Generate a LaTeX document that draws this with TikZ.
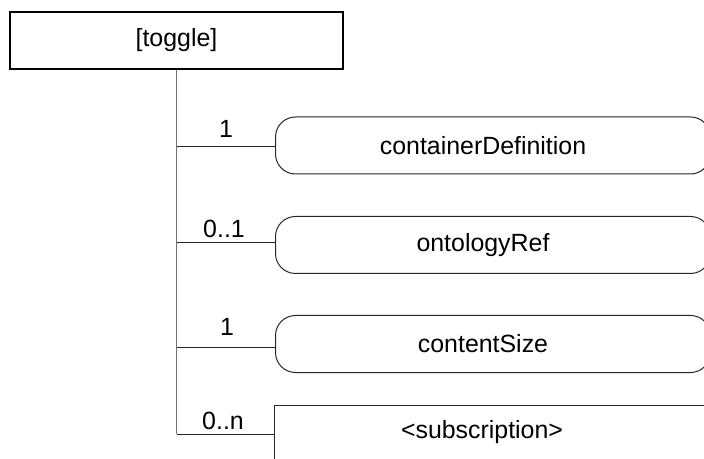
\documentclass[tikz,border=0pt]{standalone}
\usepackage{fontspec}
\setmainfont{Liberation Sans}
\begin{document}
\begin{tikzpicture}[x=1bp,y=-1bp,
  txt/.style={font=\fontsize{25}{28}\selectfont},
  elem/.style={draw=black!85, line width=1bp, rounded corners=20bp, minimum width=435bp, minimum height=57bp, inner sep=0pt, anchor=west},
  toggbox/.style={draw=black, line width=1.4bp, minimum width=333bp, minimum height=57bp, inner sep=0pt},
  trunk/.style={draw=black!55, line width=1.2bp},
  conn/.style={draw=black!85, line width=1bp},
  card/.style={txt, inner sep=0pt}
]
\useasboundingbox (0,0) rectangle (704,459);
\clip (0,0) rectangle (704,459);
\node[toggbox, txt] (toggle) at (176.5,40.5) {[toggle]};
\node[elem, label={[txt,xshift=-10bp]center:containerDefinition}] (cd) at (275,145.5) {};
\node[elem, label={[txt,xshift=-10bp]center:ontologyRef}] (onto) at (275,245) {};
\node[elem, label={[txt,xshift=-10bp]center:contentSize}] (cs) at (275,344) {};
\node[draw=black!85, line width=1bp, minimum width=440bp, minimum height=80bp, inner sep=0pt, anchor=north west] (sub) at (274,405) {};
\node[txt, inner sep=0pt] (subtext) at (482,432) {<subscription>};
\coordinate (t1) at (176.5,146.5);
\coordinate (t2) at (176.5,243);
\coordinate (t3) at (176.5,347);
\coordinate (t4) at (176.5,434);
\draw[trunk] (toggle.south) -- (t4);
\draw[conn] (t1) -- (cd.west |- t1);
\draw[conn] (t2) -- (onto.west |- t2);
\draw[conn] (t3) -- (cs.west |- t3);
\draw[conn] (t4) -- (sub.west |- t4);
\node[card] (c1) at (226,129) {1};
\node[card] (c2) at (224,229) {0..1};
\node[card] (c3) at (227,327) {1};
\node[card] (c4) at (223,421) {0..n};
\end{tikzpicture}
\end{document}
